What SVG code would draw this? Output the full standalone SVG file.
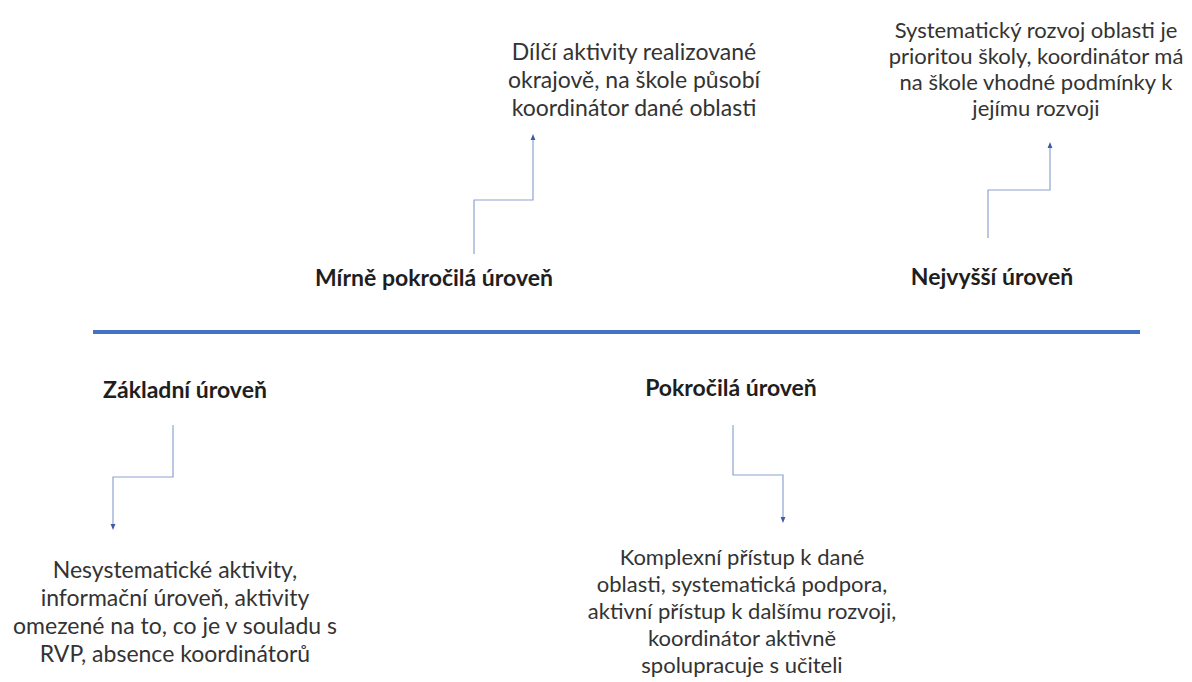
<svg xmlns="http://www.w3.org/2000/svg" width="1192" height="682" viewBox="0 0 1192 682">
<style>
.lbl{font-family:Lato,"Liberation Sans",sans-serif;font-weight:bold;font-size:23px;fill:#1e1e1e;text-anchor:middle}
.desc{font-family:Lato,"Liberation Sans",sans-serif;font-size:23px;fill:#333;text-anchor:middle}
.sm{font-size:22px}
.con{fill:none;stroke:#8EA2D4;stroke-width:1.2}
</style>
<defs>
<marker id="ah" viewBox="0 0 10 10" refX="5" refY="5" markerWidth="5" markerHeight="5" orient="auto-start-reverse">
<path d="M0,1 L10,5 L0,9 z" fill="#3F5BA8"/>
</marker>
</defs>
<rect width="1192" height="682" fill="#fff"/>
<line x1="93" y1="332" x2="1140" y2="332" stroke="#4472C4" stroke-width="4"/>
<g id="connectors">
<polyline class="con" points="474,254 474,200 533,200 533,137" marker-end="url(#ah)"/>
<polyline class="con" points="988,238 988,190 1050,190 1050,145" marker-end="url(#ah)"/>
<polyline class="con" points="173,425 173,477 113,477 113,527" marker-end="url(#ah)"/>
<polyline class="con" points="733,425 733,475 783,475 783,520" marker-end="url(#ah)"/>
</g>
<g id="mirne">
<text class="lbl" x="434" y="286">Mírně pokročilá úroveň</text>
<text class="desc" x="634" y="60">Dílčí aktivity realizované</text>
<text class="desc" x="634" y="88">okrajově, na škole působí</text>
<text class="desc" x="634" y="116">koordinátor dané oblasti</text>
</g>
<g id="nejvyssi">
<text class="lbl" x="992" y="285">Nejvyšší úroveň</text>
<text class="desc sm" x="1036" y="38">Systematický rozvoj oblasti je</text>
<text class="desc sm" x="1036" y="64">prioritou školy, koordinátor má</text>
<text class="desc sm" x="1036" y="90">na škole vhodné podmínky k</text>
<text class="desc sm" x="1036" y="116">jejímu rozvoji</text>
</g>
<g id="zakladni">
<text class="lbl" x="185" y="398">Základní úroveň</text>
<text class="desc" x="175" y="578">Nesystematické aktivity,</text>
<text class="desc" x="175" y="606">informační úroveň, aktivity</text>
<text class="desc" x="175" y="634">omezené na to, co je v souladu s</text>
<text class="desc" x="175" y="662">RVP, absence koordinátorů</text>
</g>
<g id="pokrocila">
<text class="lbl" x="731" y="396">Pokročilá úroveň</text>
<text class="desc sm" x="742" y="565">Komplexní přístup k dané</text>
<text class="desc sm" x="742" y="592">oblasti, systematická podpora,</text>
<text class="desc sm" x="742" y="619">aktivní přístup k dalšímu rozvoji,</text>
<text class="desc sm" x="742" y="646">koordinátor aktivně</text>
<text class="desc sm" x="742" y="673">spolupracuje s učiteli</text>
</g>
</svg>
